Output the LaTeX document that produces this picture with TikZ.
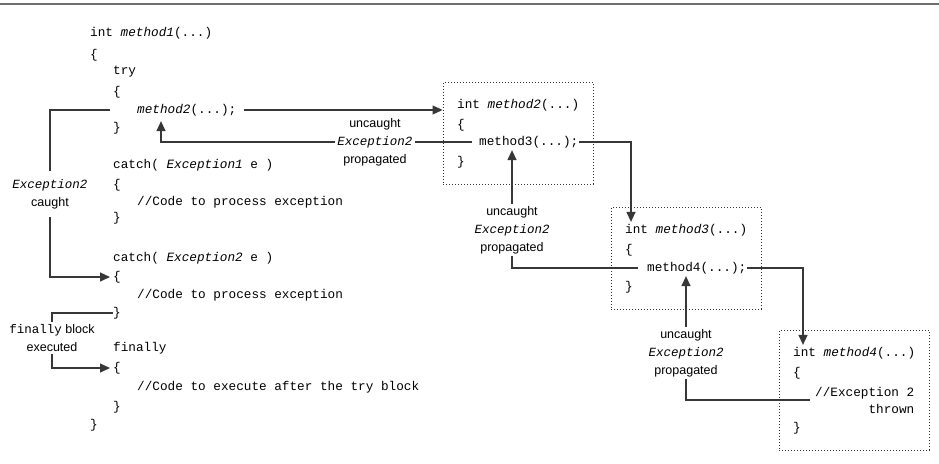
\documentclass[tikz,border=0pt]{standalone}
\usepackage{fontspec}
\setmainfont{Liberation Sans}
\setsansfont{Liberation Sans}
\setmonofont{Liberation Mono}
\usepackage{tikz}
\usetikzlibrary{arrows.meta,fit}
\definecolor{wireink}{RGB}{55,55,55}
\definecolor{ruleink}{RGB}{110,110,110}
\newcommand{\meth}[1]{\textit{#1}}
\newcommand{\codesize}{\ttfamily\fontsize{12.7}{15}\selectfont}
\newcommand{\notesize}{\sffamily\fontsize{12.5}{18}\selectfont}
\newcommand{\exname}{\texttt{\textit{Exception2}}}

\begin{document}
\begin{tikzpicture}[x=1pt,y=-1pt,
    code/.style={font=\codesize, anchor=west, inner xsep=0pt, inner ysep=2pt},
    note/.style={font=\notesize, align=center, inner sep=2pt, fill=white},
    dotbox/.style={draw=black!80, dotted, line width=1pt, inner sep=14pt},
    wire/.style={draw=wireink, line width=1.3pt},
    flow/.style={wire, -{Triangle[length=10pt,width=9pt]}}]
    \useasboundingbox (0,0) rectangle (939,463);

    % Rule along the top
    \draw[ruleink, line width=1.5pt] (0,4) -- (939,4);

    % method1: try / catch / finally
    \node[code] (m1title) at (90,33) {int \meth{method1}(...)};
    \node[code] (m1open) at (90,55) {\{};
    \node[code] (try) at (113,72) {try};
    \node[code] (tryopen) at (113,92) {\{};
    \node[code] (m2call) at (137,110) {\meth{method2}(...);};
    \node[code] (tryclose) at (113,128) {\}};
    \node[code] (catch1) at (113,165) {catch( \meth{Exception1} e )};
    \node[code] (c1open) at (113,185) {\{};
    \node[code] (c1body) at (137,202) {//Code to process exception};
    \node[code] (c1close) at (113,218) {\}};
    \node[code] (catch2) at (113,258) {catch( \meth{Exception2} e )};
    \node[code] (c2open) at (113,277) {\{};
    \node[code] (c2body) at (137,295) {//Code to process exception};
    \node[code] (c2close) at (113,313) {\}};
    \node[code] (fin) at (113,348) {finally};
    \node[code] (finopen) at (113,368) {\{};
    \node[code] (finbody) at (137,387) {//Code to execute after the try block};
    \node[code] (finclose) at (113,407) {\}};
    \node[code] (m1close) at (90,425) {\}};

    % method2
    \begin{scope}[shift={(457,105)}]
        \node[code] (m2title) at (0,0) {int \meth{method2}(...)};
        \node[code] (m2open) at (0,20) {\{};
        \node[code] (m3call) at (22,37) {method3(...);};
        \node[code] (m2close) at (0,57) {\}};
    \end{scope}
    \node[dotbox, fit=(m2title)(m3call)(m2close)] (box1) {};

    % method3
    \begin{scope}[shift={(625,230)}]
        \node[code] (m3title) at (0,0) {int \meth{method3}(...)};
        \node[code] (m3open) at (0,20) {\{};
        \node[code] (m4call) at (22,38) {method4(...);};
        \node[code] (m3close) at (0,57) {\}};
    \end{scope}
    \node[dotbox, fit=(m3title)(m4call)(m3close)] (box2) {};

    % method4
    \begin{scope}[shift={(793,353)}]
        \node[code] (m4title) at (0,0) {int \meth{method4}(...)};
        \node[code] (m4open) at (0,20) {\{};
        \node[code, align=right] (exc) at (22,47) {//Exception 2\\[2pt]thrown};
        \node[code] (m4close) at (0,75) {\}};
    \end{scope}
    \node[dotbox, fit=(m4title)(exc)(m4close)] (box3) {};

    % Labels
    \node[note] (lbl1) at (375,142) {uncaught\\\exname\\propagated};
    \node[note] (lbl2) at (512,230) {uncaught\\\exname\\propagated};
    \node[note] (lbl3) at (686,353) {uncaught\\\exname\\propagated};
    \node[note, inner ysep=8pt] (lblc) at (50,194) {\exname\\caught};
    \node[note] (lblf) at (52,338) {\texttt{finally} block\\executed};

    % Calls down the chain
    \draw[flow] ([xshift=8pt]m2call.east) -- (m2call.east -| box1.west);
    \draw[flow] ([xshift=1pt]m3call.east) -| ([xshift=6pt]m3title.north west);
    \draw[flow] ([xshift=1pt]m4call.east) -| ([xshift=10pt]m4title.north west);

    % Exception propagated back up
    \draw[wire] (lbl3.south) |- ([xshift=-5pt]exc.west);
    \draw[flow] (lbl3.north) -- (lbl3.north |- m4call.south);
    \draw[wire] (lbl2.south) |- ([xshift=-9pt]m4call.west);
    \draw[flow] (lbl2.north) -- (lbl2.north |- m3call.south);
    \draw[wire] ([xshift=-7pt]m3call.west) -- (lbl1.east);
    \draw[flow] (lbl1.west) -| ([xshift=24pt,yshift=-3pt]m2call.south west);

    % Caught, then finally
    \draw[wire] ([xshift=-27pt]m2call.west) -| (lblc.north);
    \draw[flow] (lblc.south) |- ([xshift=-3pt]c2open.west);
    \draw[wire] (c2close.west) -| (lblf.north);
    \draw[flow] (lblf.south) |- ([xshift=-3pt]finopen.west);
\end{tikzpicture}
\end{document}
